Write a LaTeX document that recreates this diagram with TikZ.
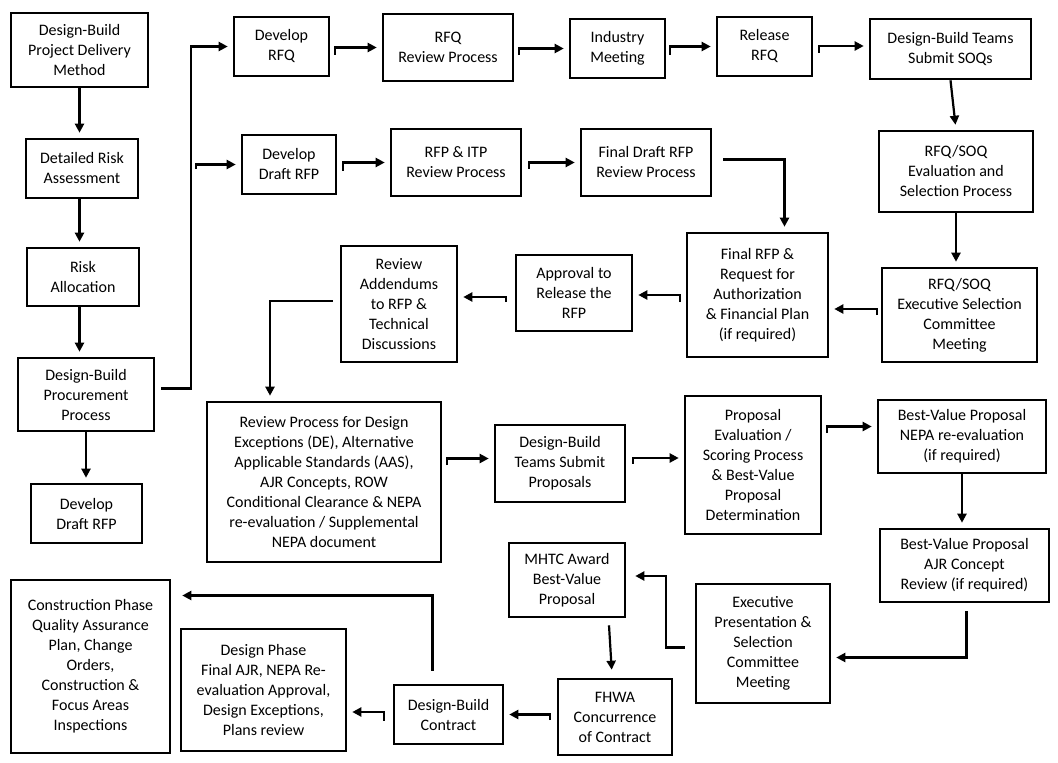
\documentclass[tikz,border=0pt]{standalone}
\usepackage{fontspec}
\setmainfont{Carlito}
\usepackage{tikz}
\usetikzlibrary{arrows.meta,calc}

\begin{document}
\begin{tikzpicture}[x=1pt,y=-1pt,
    stage/.style={draw,line width=2.6pt,align=center,inner sep=1pt,
        font=\fontsize{16}{20}\selectfont},
    arr/.style={-{Triangle[length=9pt,width=9pt]},line width=2.2pt,shorten >=5pt}]
    \fill[white] (0,0) rectangle (1058,763);
    \useasboundingbox (0,0) rectangle (1058,763);
    % left column
    \node[stage,minimum width=137,minimum height=74] (dbm) at (79.5,50) {Design-Build\\Project Delivery\\Method};
    \node[stage,minimum width=112,minimum height=59] (risk) at (82,168.5) {Detailed Risk\\Assessment};
    \node[stage,minimum width=112,minimum height=58] (alloc) at (83,277) {Risk\\Allocation};
    \node[stage,minimum width=136,minimum height=73] (proc) at (86,394.5) {Design-Build\\Procurement\\Process};
    \node[stage,minimum width=111,minimum height=59] (draft) at (86.5,513.5) {Develop\\Draft RFP};
    % RFQ row
    \node[stage,minimum width=95,minimum height=59] (drfq) at (281.5,46.5) {Develop\\RFQ};
    \node[stage,minimum width=130,minimum height=67] (rfqrev) at (448,47.5) {RFQ\\Review Process};
    \node[stage,minimum width=95,minimum height=59] (meet) at (617.5,48.5) {Industry\\Meeting};
    \node[stage,minimum width=95,minimum height=59] (rel) at (764.5,46.5) {Release\\RFQ};
    \node[stage,minimum width=161,minimum height=60] (soq) at (950.5,49) {Design-Build Teams\\Submit SOQs};
    \node[stage,minimum width=154,minimum height=81] (soqeval) at (956,171.5) {RFQ/SOQ\\Evaluation and\\Selection Process};
    \node[stage,minimum width=155,minimum height=94] (soqexec) at (959.5,315) {RFQ/SOQ\\Executive Selection\\Committee\\Meeting};
    % RFP row
    \node[stage,minimum width=94,minimum height=59] (drfp) at (289,164.5) {Develop\\Draft RFP};
    \node[stage,minimum width=130,minimum height=67] (itp) at (456,162.5) {RFP \& ITP\\Review Process};
    \node[stage,minimum width=130,minimum height=67] (fdraft) at (646,162.5) {Final Draft RFP\\Review Process};
    \node[stage,minimum width=141,minimum height=124] (frfp) at (757.5,295) {Final RFP \&\\Request for\\Authorization\\\& Financial Plan\\(if required)};
    \node[stage,minimum width=116,minimum height=76] (appr) at (574,293) {Approval to\\Release the\\RFP};
    \node[stage,minimum width=116,minimum height=116] (addm) at (399,304) {Review\\Addendums\\to RFP \&\\Technical\\Discussions};
    % proposal row
    \node[stage,minimum width=234,minimum height=160] (desrev) at (324,482) {Review Process for Design\\Exceptions (DE), Alternative\\Applicable Standards (AAS),\\AJR Concepts, ROW\\Conditional Clearance \& NEPA\\re-evaluation / Supplemental\\NEPA document};
    \node[stage,minimum width=130,minimum height=77] (subm) at (560,463.5) {Design-Build\\Teams Submit\\Proposals};
    \node[stage,minimum width=136,minimum height=138] (score) at (753,465) {Proposal\\Evaluation /\\Scoring Process\\\& Best-Value\\Proposal\\Determination};
    \node[stage,minimum width=168,minimum height=73] (nepa) at (962,436.5) {Best-Value Proposal\\NEPA re-evaluation\\(if required)};
    \node[stage,minimum width=169,minimum height=73] (ajr) at (964.5,565.5) {Best-Value Proposal\\AJR Concept\\Review (if required)};
    \node[stage,minimum width=134,minimum height=119] (pres) at (763,643.5) {Executive\\Presentation \&\\Selection\\Committee\\Meeting};
    \node[stage,minimum width=116,minimum height=74] (award) at (567,580) {MHTC Award\\Best-Value\\Proposal};
    \node[stage,minimum width=114,minimum height=76] (fhwa) at (615,717) {FHWA\\Concurrence\\of Contract};
    \node[stage,minimum width=109,minimum height=59] (contr) at (448.5,714.5) {Design-Build\\Contract};
    \node[stage,minimum width=165,minimum height=122] (dphase) at (263.5,690) {Design Phase\\Final AJR, NEPA Re-\\evaluation Approval,\\Design Exceptions,\\Plans review};
    \node[stage,minimum width=159,minimum height=173] (cphase) at (90.5,666.5) {Construction Phase\\Quality Assurance\\Plan, Change\\Orders,\\Construction \&\\Focus Areas\\Inspections};
    % connectors
    \draw[arr] (dbm.south) -- (dbm.south |- risk.north);
    \draw[arr] (risk.south -| dbm.south) -- (alloc.north -| dbm.south);
    \draw[arr] (alloc.south -| dbm.south) -- (proc.north -| dbm.south);
    \draw[arr] (proc.south) -- (proc.south |- draft.north);
    \draw[arr] ($(proc.east)+(6,-6)$) -| ($(drfq.west)+(-42,0)$) -- (drfq.west);
    \draw[arr] ($(drfp.west)+(-45,4)$) |- (drfp.west);
    \draw[arr] ($(drfq.east)+(5,8)$) |- (rfqrev.west);
    \draw[arr] ($(rfqrev.east)+(5,7)$) |- (meet.west);
    \draw[arr] ($(meet.east)+(4,6)$) |- (rel.west);
    \draw[arr] ($(rel.east)+(6,6)$) |- ($(soq.west)+(0,-3)$);
    \draw[arr] (soq.south) -- (soqeval.north);
    \draw[arr] (soqeval.south) -- (soqeval.south |- soqexec.north);
    \draw[arr] ($(drfp.east)+(6,6)$) |- (itp.west);
    \draw[arr] ($(itp.east)+(7,6)$) |- (fdraft.west);
    \draw[arr] ($(fdraft.east)+(11,-3)$) -| ($(frfp.north)+(27,0)$);
    \draw[arr] ($(soqexec.west)+(-4,0)$) |- ($(frfp.east)+(0,14)$);
    \draw[arr] ($(frfp.west)+(-6,7)$) |- ($(appr.east)+(0,2)$);
    \draw[arr] ($(appr.west)+(-9,9)$) |- ($(addm.east)+(0,-7)$);
    \draw[arr] ($(addm.west)+(-7,-3)$) -| ($(desrev.north)+(-54,0)$);
    \draw[arr] ($(desrev.east)+(5,-17)$) |- ($(subm.west)+(0,-5)$);
    \draw[arr] ($(subm.east)+(7,0)$) |- ($(score.west)+(0,-7)$);
    \draw[arr] ($(score.east)+(5,-32)$) |- ($(nepa.west)+(0,-10)$);
    \draw[arr] (nepa.south) -- (nepa.south |- ajr.north);
    \draw[arr] ($(ajr.south)+(2,8)$) |- ($(pres.east)+(0,14)$);
    \draw[arr] ($(pres.west)+(-10,4)$) -| ($(award.east)+(40,30)$) |- ($(award.east)+(4,-4)$);
    \draw[arr] ($(award.south)+(42,7)$) -- ($(fhwa.north)+(-3,-3)$);
    \draw[arr] ($(fhwa.west)+(-7,3)$) |- (contr.east);
    \draw[arr] ($(contr.west)+(-9,6)$) |- ($(dphase.east)+(0,22)$);
    \draw[arr] ($(contr.north)+(-16,-13)$) |- ($(cphase.east)+(6,-71)$);
\end{tikzpicture}
\end{document}
